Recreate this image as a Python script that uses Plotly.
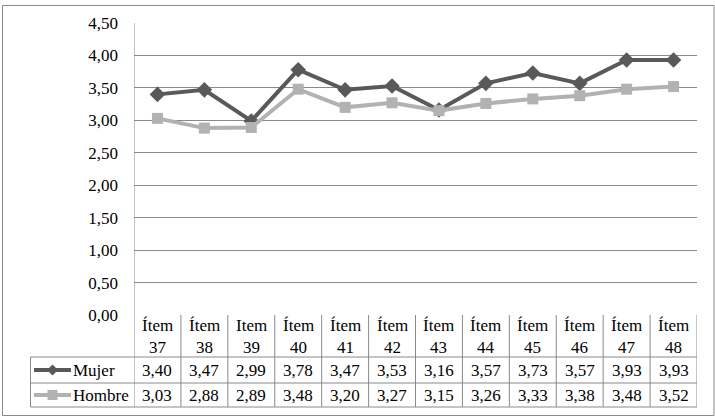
import plotly.graph_objects as go

categories = ["Ítem<br>37", "Ítem<br>38", "Item<br>39", "Ítem<br>40", "Ítem<br>41", "Ítem<br>42",
              "Ítem<br>43", "Ítem<br>44", "Ítem<br>45", "Ítem<br>46", "Ítem<br>47", "Ítem<br>48"]
mujer = [3.40, 3.47, 2.99, 3.78, 3.47, 3.53, 3.16, 3.57, 3.73, 3.57, 3.93, 3.93]
hombre = [3.03, 2.88, 2.89, 3.48, 3.20, 3.27, 3.15, 3.26, 3.33, 3.38, 3.48, 3.52]
series_names = ["Mujer", "Hombre"]
y_ticks = [0, 0.5, 1, 1.5, 2, 2.5, 3, 3.5, 4, 4.5]

W, H = 715, 419
L, R, T, B = 134, 18, 23, 104
PW, PH = W - L - R, H - T - B

def px_x(px):
    return (px - L) / PW

def px_y(py):
    return (H - B - py) / PH

DARK = "#595959"
LIGHT = "#b2b2b2"
GRID = "#8a8a8a"
FONT = "Liberation Serif"
FS = 17

xs = list(range(len(categories)))
fig = go.Figure()
fig.add_trace(go.Scatter(x=xs, y=mujer, mode="lines+markers", name="Mujer",
                         line=dict(color=DARK, width=4),
                         marker=dict(symbol="diamond", size=12, color=DARK)))
fig.add_trace(go.Scatter(x=xs, y=hombre, mode="lines+markers", name="Hombre",
                         line=dict(color=LIGHT, width=4),
                         marker=dict(symbol="square", size=11, color=LIGHT)))

shapes = []
annotations = []
n = len(categories)
row_hdr = px_y(357)
row_m = px_y(383)
row_h = px_y(407)

# outer border
shapes.append(dict(type="rect", xref="paper", yref="paper", x0=px_x(2.5), x1=px_x(714), y0=px_y(415.5), y1=px_y(5.5),
                   line=dict(color=GRID, width=1), layer="below"))
# vertical table lines
for i in range(n + 1):
    top = 1 if i == 0 else 0
    shapes.append(dict(type="line", xref="x", yref="paper", x0=i - 0.5, x1=i - 0.5, y0=top, y1=row_h,
                       line=dict(color=GRID, width=1)))
# legend column left line
shapes.append(dict(type="line", xref="paper", yref="paper", x0=px_x(30.5), x1=px_x(30.5), y0=row_hdr, y1=row_h,
                   line=dict(color=GRID, width=1)))
# horizontal table lines
for yy in [row_hdr, row_m, row_h]:
    shapes.append(dict(type="line", xref="paper", yref="paper", x0=px_x(30.5), x1=1, y0=yy, y1=yy,
                       line=dict(color=GRID, width=1)))

tf = dict(family=FONT, size=FS, color="black")
# category header labels and values
for i, c in enumerate(categories):
    annotations.append(dict(x=i, y=(0 + row_hdr) / 2, xref="x", yref="paper", text=c, showarrow=False,
                            font=tf, align="center", xanchor="center", yanchor="middle"))
    annotations.append(dict(x=i, y=(row_hdr + row_m) / 2, xref="x", yref="paper",
                            text=f"{mujer[i]:.2f}".replace(".", ","), showarrow=False,
                            font=tf, xanchor="center", yanchor="middle"))
    annotations.append(dict(x=i, y=(row_m + row_h) / 2, xref="x", yref="paper",
                            text=f"{hombre[i]:.2f}".replace(".", ","), showarrow=False,
                            font=tf, xanchor="center", yanchor="middle"))

# legend keys in the table
for name, col, sym, yc in [(series_names[0], DARK, "diamond", (row_hdr + row_m) / 2),
                           (series_names[1], LIGHT, "square", (row_m + row_h) / 2)]:
    shapes.append(dict(type="line", xref="paper", yref="paper", x0=px_x(34), x1=px_x(71), y0=yc, y1=yc,
                       line=dict(color=col, width=4)))
    cx = px_x(52.5)
    hx, hy = 5.5 / PW, 5.5 / PH
    if sym == "diamond":
        path = f"M {cx - hx} {yc} L {cx} {yc + hy} L {cx + hx} {yc} L {cx} {yc - hy} Z"
    else:
        hx, hy = 5 / PW, 5 / PH
        path = f"M {cx - hx} {yc - hy} L {cx - hx} {yc + hy} L {cx + hx} {yc + hy} L {cx + hx} {yc - hy} Z"
    shapes.append(dict(type="path", xref="paper", yref="paper", path=path, fillcolor=col, line=dict(color=col, width=0)))
    annotations.append(dict(x=px_x(71), y=yc, xref="paper", yref="paper", text=name, showarrow=False,
                            xanchor="left", yanchor="middle", font=tf))

fig.update_layout(
    width=W, height=H,
    margin=dict(l=L, r=R, t=T, b=B, pad=0),
    paper_bgcolor="white", plot_bgcolor="white",
    separators=",.",
    showlegend=False,
    font=tf,
    shapes=shapes,
    annotations=annotations,
    xaxis=dict(range=[-0.5, n - 0.5], showgrid=False, zeroline=False, showticklabels=False,
               showline=False, fixedrange=True),
    yaxis=dict(range=[0, 4.5], tickvals=y_ticks, tickformat=".2f", showgrid=True, gridcolor=GRID, gridwidth=1,
               zeroline=False, showline=False, ticks="", ticklabelstandoff=15, fixedrange=True,
               tickfont=tf),
)

fig.write_html("out.html", config={"displayModeBar": False},
               post_script="document.body.style.margin='0';")
